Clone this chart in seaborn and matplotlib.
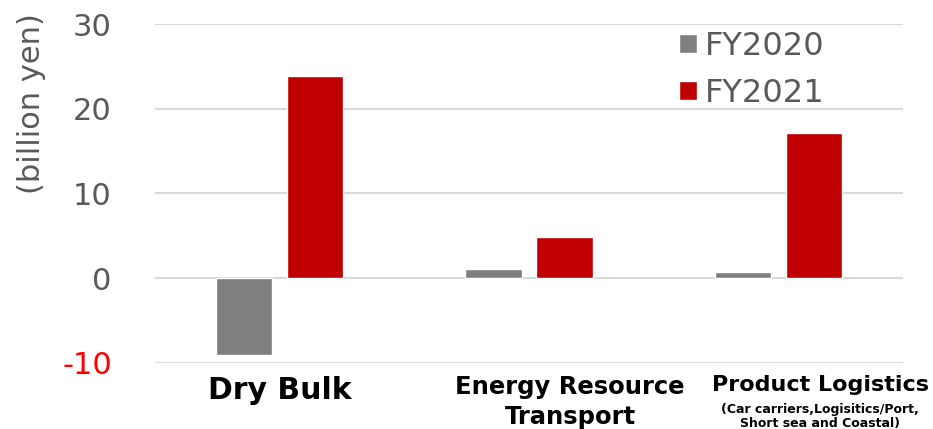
import pandas as pd
import matplotlib
matplotlib.use('Agg')
import matplotlib.pyplot as plt
import seaborn as sns

segments = ['Dry Bulk', 'Energy Resource\nTransport', 'Product Logistics']
subtitle = '(Car carriers,Logisitics/Port,\nShort sea and Coastal)'
fy2020 = [-9.1, 1.1, 0.7]
fy2021 = [23.9, 4.9, 17.1]
years = ['FY2020', 'FY2021']
y_ticks = [-10, 0, 10, 20, 30]

df = pd.DataFrame({
    'Segment': segments * 2,
    'Year': [years[0]] * 3 + [years[1]] * 3,
    'Value': fy2020 + fy2021,
})

sns.set_style('white')
plt.rcParams['font.family'] = ['DejaVu Sans']
plt.rcParams['axes.unicode_minus'] = False

fig = plt.figure(figsize=(9.33, 4.29), dpi=100)
ax = fig.add_axes([0.166, 0.154, 0.802, 0.790])

sns.barplot(data=df, x='Segment', y='Value', hue='Year',
            palette={'FY2020': '#7f7f7f', 'FY2021': '#c00000'},
            width=0.57, gap=0.21, saturation=1, ax=ax, zorder=3)

ax.set_ylim(-10, 30)
ax.set_xlim(-0.5, 2.5)
ax.set_yticks(y_ticks)
ax.yaxis.grid(True, color='#d9d9d9', linewidth=1.5, zorder=0)
ax.set_axisbelow(True)
for s in ax.spines.values():
    s.set_visible(False)
ax.tick_params(axis='both', length=0)
ax.tick_params(axis='y', labelsize=22, labelcolor='#595959', pad=31)
for lbl in ax.get_yticklabels():
    if lbl.get_text().startswith('-'):
        lbl.set_color('red')
ax.set_ylabel('(billion yen)', fontsize=22, color='#595959')
ax.yaxis.set_label_coords(-0.145, 0.765)
ax.set_xlabel('')

# category labels drawn as text, the original has them nudged right
ax.set_xticks([0, 1, 2])
ax.set_xticklabels([])
xt = ax.get_xaxis_transform()
ax.text(0, -0.04, segments[0], transform=xt, ha='center', va='top',
        fontsize=21.5, fontweight='bold', color='black')
ax.text(1.165, -0.035, segments[1], transform=xt, ha='center', va='top',
        fontsize=17.5, fontweight='bold', color='black', linespacing=1.35)
ax.text(2.167, -0.035, segments[2], transform=xt, ha='center', va='top',
        fontsize=16, fontweight='bold', color='black')
ax.text(2.167, -0.118, subtitle, transform=xt, ha='center', va='top',
        fontsize=9, fontweight='bold', color='black', linespacing=1.1)

handles, labels = ax.get_legend_handles_labels()
ax.legend(handles, labels, loc='upper left', bbox_to_anchor=(0.697, 0.995),
          bbox_transform=fig.transFigure, frameon=False, fontsize=23,
          labelcolor='#595959', handlelength=0.55, handleheight=0.55,
          handletextpad=0.25, labelspacing=0.5)

fig.savefig('out.png', dpi=100)
